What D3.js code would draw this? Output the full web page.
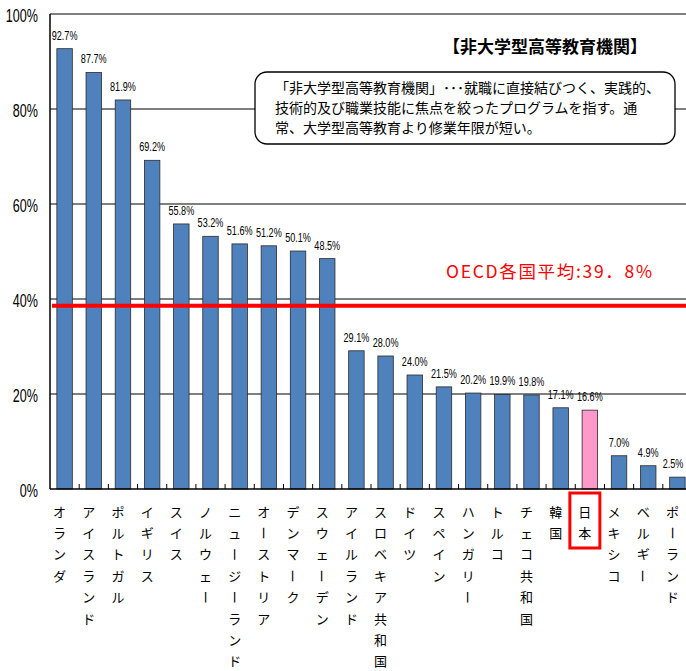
<!DOCTYPE html>
<html><head><meta charset="utf-8">
<script src="https://cdn.jsdelivr.net/npm/d3@7"></script>
<style>
body{margin:0;background:#fff;}
svg{display:block;}
</style></head>
<body>
<svg id="c" width="686" height="671"></svg>
<script>
const categories = ["オランダ","アイスランド","ポルトガル","イギリス","スイス","ノルウェー","ニュージーランド","オーストリア","デンマーク","スウェーデン","アイルランド","スロベキア共和国","ドイツ","スペイン","ハンガリー","トルコ","チェコ共和国","韓国","日本","メキシコ","ベルギー","ポーランド"];
const values = [92.7,87.7,81.9,69.2,55.8,53.2,51.6,51.2,50.1,48.5,29.1,28.0,24.0,21.5,20.2,19.9,19.8,17.1,16.6,7.0,4.9,2.5];
const valueLabels = ["92.7%","87.7%","81.9%","69.2%","55.8%","53.2%","51.6%","51.2%","50.1%","48.5%","29.1%","28.0%","24.0%","21.5%","20.2%","19.9%","19.8%","17.1%","16.6%","7.0%","4.9%","2.5%"];
const yTicks = [0,20,40,60,80,100];
const yTickLabels = ["0%","20%","40%","60%","80%","100%"];
const highlight = "日本";
const averageLinePos = 38.6;
const averageLabel = "OECD各国平均:39．8%";
const title = "【非大学型高等教育機関】";
const noteLines = ["「非大学型高等教育機関」･･･就職に直接結びつく、実践的、","技術的及び職業技能に焦点を絞ったプログラムを指す。通","常、大学型高等教育より修業年限が短い。"];

const svg = d3.select("#c");
const L = 50, R = 692, T = 14, B = 489;
const x = d3.scaleBand().domain(categories).range([L, R]).paddingInner(0.47).paddingOuter(0.235);
const y = d3.scaleLinear().domain([0,100]).range([B, T]);
const narrow = "'Liberation Sans','Arial',sans-serif";
const jp = "'Noto Sans CJK JP','Noto Sans CJK SC',sans-serif";

// gridlines
svg.append("g").selectAll("line").data(yTicks.filter(d=>d>0)).join("line")
  .attr("x1", L).attr("x2", 686).attr("y1", d=>y(d)).attr("y2", d=>y(d))
  .attr("stroke","#000").attr("stroke-width",1.2);

// y axis labels (condensed)
svg.append("g").selectAll("text").data(yTicks).join("text")
  .attr("transform", d=>`translate(38,${y(d)+7.5}) scale(0.68,1)`)
  .attr("text-anchor","end").attr("font-family",narrow).attr("font-size",18.5)
  .text((d,i)=>yTickLabels[i]);

// value labels (condensed)
const vlW = 26;
svg.append("g").selectAll("text").data(values).join("text")
  .attr("transform",(d,i)=>`translate(${Math.min(x(categories[i])+x.bandwidth()/2, 686-vlW/2)},${y(d)-9}) scale(0.7,1)`)
  .attr("text-anchor","middle").attr("font-family",narrow).attr("font-size",13)
  .text((d,i)=>valueLabels[i]);

// bars
svg.append("g").selectAll("rect").data(values).join("rect")
  .attr("x",(d,i)=>x(categories[i])).attr("width",x.bandwidth())
  .attr("y",d=>y(d)).attr("height",d=>B-y(d))
  .attr("fill",(d,i)=>categories[i]===highlight?"#FF99CC":"#4F81BD")
  .attr("stroke","#2b2b2b").attr("stroke-width",0.8);

// axes lines
svg.append("line").attr("x1",L).attr("x2",L).attr("y1",T).attr("y2",B).attr("stroke","#000").attr("stroke-width",1.5);
svg.append("line").attr("x1",L).attr("x2",686).attr("y1",B).attr("y2",B).attr("stroke","#000").attr("stroke-width",1.5);
// x ticks (band boundaries, inward)
const step = x.step();
svg.append("g").selectAll("line").data(categories.slice(1)).join("line")
  .attr("x1",d=>x(d)-(step-x.bandwidth())/2).attr("x2",d=>x(d)-(step-x.bandwidth())/2)
  .attr("y1",B).attr("y2",B-5).attr("stroke","#000").attr("stroke-width",1);

// average line
svg.append("line").attr("x1",52).attr("x2",686).attr("y1",y(averageLinePos)).attr("y2",y(averageLinePos))
  .attr("stroke","#FF0000").attr("stroke-width",4);
svg.append("text").attr("x",446).attr("y",278).attr("fill","#FF0000")
  .attr("font-family",jp).attr("font-size",17.5)
  .attr("textLength",206).attr("lengthAdjust","spacing").text(averageLabel);

// title
svg.append("text").attr("x",443).attr("y",53).attr("font-family",jp).attr("font-size",17).attr("font-weight","bold")
  .attr("textLength",204).attr("lengthAdjust","spacing").text(title);

// note box
svg.append("rect").attr("x",255).attr("y",72).attr("width",420).attr("height",72).attr("rx",12).attr("ry",12)
  .attr("fill","#fff").attr("stroke","#000").attr("stroke-width",1.3);
svg.append("g").selectAll("text").data(noteLines).join("text")
  .attr("x",275).attr("y",(d,i)=>93+i*20).attr("font-family",jp).attr("font-size",14).text(d=>d);

// category labels vertical
const cg = svg.append("g");
categories.forEach((c,i)=>{
  const cx = x(c)+x.bandwidth()/2-5;
  Array.from(c).forEach((ch,j)=>{
    const cy = 516.5 + j*21.4;
    const t = cg.append("text").attr("x",cx).attr("y",cy).attr("text-anchor","middle")
      .attr("font-family",jp).attr("font-size",13).text(ch);
    if(ch==="ー"){ t.attr("transform",`rotate(90,${cx},${cy-4.8})`); }
  });
  if(c===highlight){
    svg.append("rect").attr("x",cx-15).attr("y",493).attr("width",30).attr("height",55)
      .attr("fill","none").attr("stroke","#FF0000").attr("stroke-width",3);
  }
});
</script>
</body></html>
